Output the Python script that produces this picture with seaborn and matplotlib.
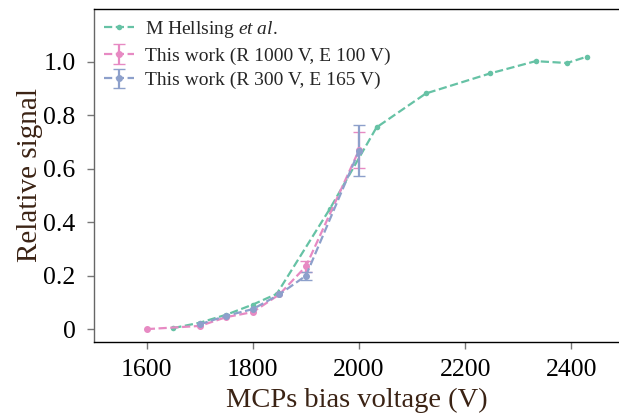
import numpy as np
import pandas as pd
import matplotlib
matplotlib.use("Agg")
import matplotlib.pyplot as plt
import seaborn as sns
from matplotlib.ticker import FuncFormatter

# Data
hellsing_v = [1650, 1700, 1750, 1800, 1845, 1945, 2033, 2126, 2247, 2333, 2392, 2430]
hellsing_s = [0.004, 0.024, 0.054, 0.092, 0.132, 0.450, 0.755, 0.882, 0.957, 1.003, 0.996, 1.020]

r1000_v = [1600, 1700, 1750, 1800, 1850, 1900, 2000]
r1000_s = [0.000, 0.012, 0.045, 0.064, 0.130, 0.235, 0.670]
r1000_e = [np.nan, np.nan, np.nan, np.nan, np.nan, 0.020, 0.068]

r300_v = [1700, 1750, 1800, 1850, 1900, 2000]
r300_s = [0.018, 0.050, 0.075, 0.130, 0.200, 0.668]
r300_e = [np.nan, np.nan, np.nan, np.nan, 0.015, 0.095]

xticks = [1600, 1800, 2000, 2200, 2400]
yticks = [0, 0.2, 0.4, 0.6, 0.8, 1.0]

sns.set_theme(style="ticks")
plt.rcParams["font.family"] = ["Liberation Serif", "DejaVu Serif"]
plt.rcParams["mathtext.fontset"] = "custom"
plt.rcParams["mathtext.it"] = "Liberation Serif:italic"
plt.rcParams["mathtext.rm"] = "Liberation Serif"

pal = sns.color_palette("Set2")
green, purple, pink = pal[0], pal[2], pal[3]

fig = plt.figure(figsize=(6.19, 4.17), dpi=100)
ax = fig.add_axes([0.1514, 0.1787, 0.8486, 0.8009])

df = pd.DataFrame({"v": hellsing_v, "s": hellsing_s})
sns.lineplot(data=df, x="v", y="s", ax=ax, color=green, linestyle="--",
             marker="o", markersize=4, markeredgewidth=0, linewidth=1.6,
             label=r"M Hellsing $\mathit{et\ al.}$")

ax.errorbar(r1000_v, r1000_s, yerr=np.array(r1000_e), color=pink, linestyle="--",
            marker="o", markersize=4, linewidth=1.6, capsize=4, elinewidth=1.6,
            label="This work (R 1000 V, E 100 V)")
ax.errorbar(r300_v, r300_s, yerr=np.array(r300_e), color=purple, linestyle="--",
            marker="o", markersize=4, linewidth=1.6, capsize=4, elinewidth=1.6,
            label="This work (R 300 V, E 165 V)")

ax.set_xlim(1500, 2490)
ax.set_ylim(-0.05, 1.2)
ax.set_xticks(xticks)
ax.set_yticks(yticks)
ax.yaxis.set_major_formatter(FuncFormatter(lambda v, p: "0" if abs(v) < 1e-9 else f"{v:.1f}"))
ax.tick_params(axis="both", labelsize=18.5, colors="#777777", labelcolor="black",
               length=5, width=1)
ax.tick_params(axis="x", pad=7)
ax.tick_params(axis="y", pad=8)

labcol = "#3b2314"
ax.set_xlabel("MCPs bias voltage (V)", fontsize=20.5, color=labcol, labelpad=5)
ax.set_ylabel("Relative signal", fontsize=21, color=labcol, labelpad=0.5)

ax.spines["right"].set_visible(False)
ax.spines["left"].set_color("#666666")
ax.spines["bottom"].set_color("black")
ax.spines["top"].set_color("black")
for s in ax.spines.values():
    s.set_linewidth(1.0)

leg = ax.legend(loc="upper left", fontsize=14, frameon=False,
                borderaxespad=0.15, handlelength=1.5, handletextpad=0.6,
                labelspacing=0.35)

fig.savefig("out.png", dpi=100)
